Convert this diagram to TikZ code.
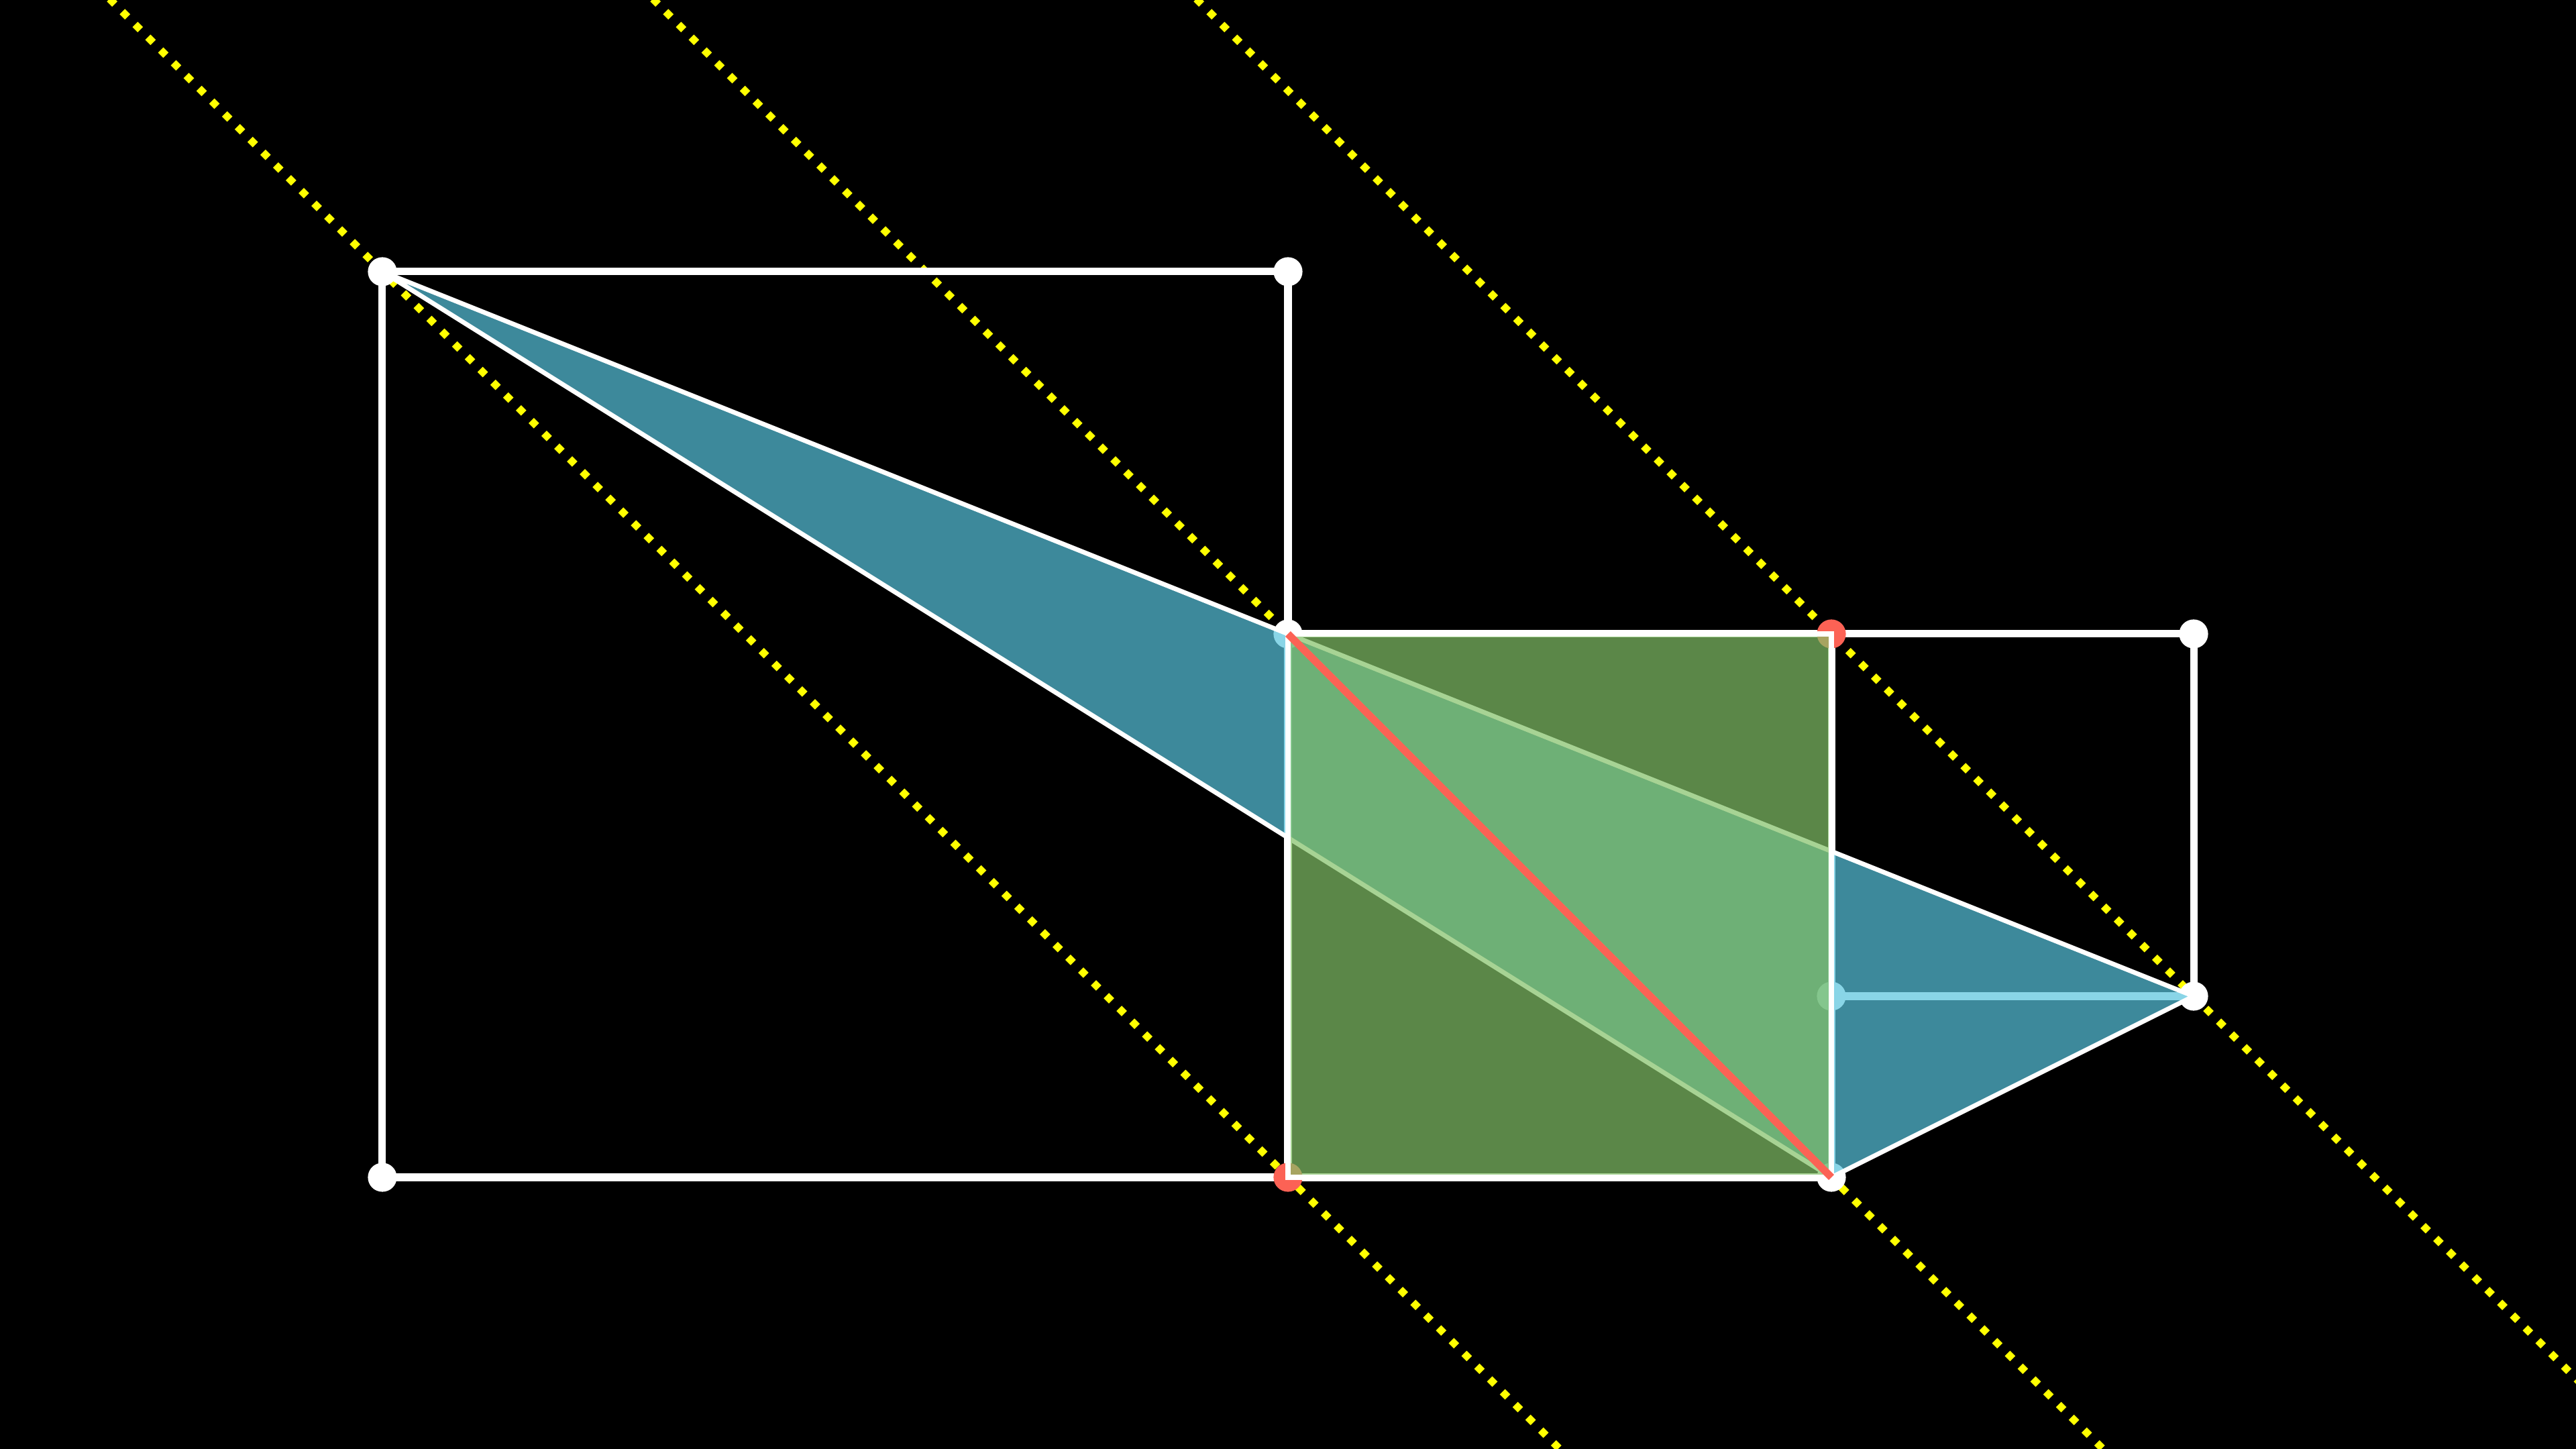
\documentclass[tikz,border=0pt]{standalone}
\definecolor{mblue}{HTML}{58C4DD}
\definecolor{mgreen}{HTML}{83C167}
\definecolor{mred}{HTML}{FC6255}
\definecolor{myellow}{HTML}{FFFF00}
\begin{document}
\begin{tikzpicture}[x=110.25pt,y=110.25pt,
  outline/.style={draw=white,line width=4.5pt},
  guide/.style={draw=myellow,line width=4.5pt,dash pattern=on 4.5pt off 6.5pt},
  wdot/.style={fill=white},
  rdot/.style={fill=mred},
  tri/.style={fill=mblue,fill opacity=0.7,draw=white,line width=2.8pt,line join=round},
  sq/.style={fill=mgreen,fill opacity=0.7,draw=white,line width=3.4pt},
  redline/.style={draw=mred,line width=4.6pt}]
\fill[black] (-7.1111,-4) rectangle (7.1111,4);
\useasboundingbox (-7.1111,-4) rectangle (7.1111,4);
% points
\coordinate (A) at (-5,2.5);
\coordinate (B) at (0,2.5);
\coordinate (C) at (0,0.5);
\coordinate (D) at (3,0.5);
\coordinate (E) at (5,0.5);
\coordinate (F) at (5,-1.5);
\coordinate (G) at (3,-1.5);
\coordinate (H) at (3,-2.5);
\coordinate (I) at (0,-2.5);
\coordinate (J) at (-5,-2.5);
% guide line ends
\coordinate (y1s) at (-7,4.5);  \coordinate (y1e) at (2,-4.5);
\coordinate (y2s) at (-4,4.5);  \coordinate (y2e) at (5,-4.5);
\coordinate (y3s) at (-1,4.5);  \coordinate (y3e) at (8,-4.5);
\begin{scope}
\clip (-7.1111,-4) rectangle (7.1111,4);
\draw[guide] (y1s) -- (y1e);
\draw[guide] (y2s) -- (y2e);
\draw[guide] (y3s) -- (y3e);
\end{scope}
% white outlines
\draw[outline] (A) -- (B) -- (I) -- (J) -- cycle;
\draw[outline] (C) -- (E) -- (F) -- (G);
\draw[outline] (D) -- (H) -- (I);
% dots
\foreach \p in {A,B,C,E,F,G,H,J} \fill[wdot] (\p) circle (0.08);
\foreach \p in {D,I} \fill[rdot] (\p) circle (0.08);
% triangle
\draw[tri] (A) -- (F) -- (H) -- cycle;
% green square
\draw[sq] (C) -- (D) -- (H) -- (I) -- cycle;
% red diagonal
\draw[redline] (C) -- (H);
\end{tikzpicture}
\end{document}
